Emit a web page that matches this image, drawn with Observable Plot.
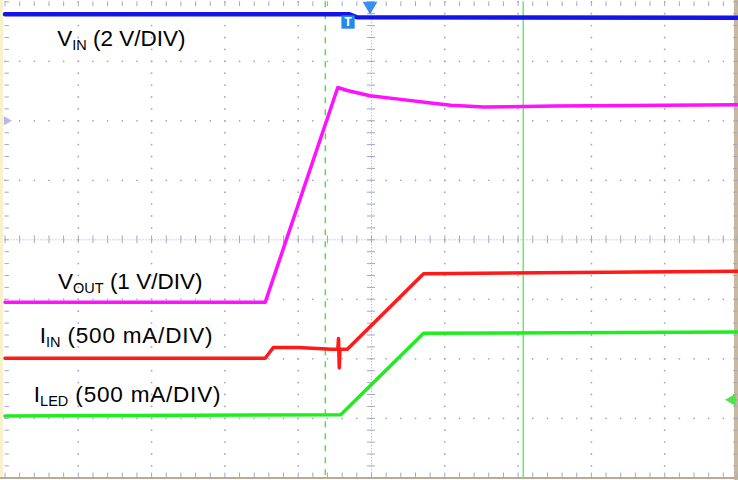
<!DOCTYPE html>
<html>
<head>
<meta charset="utf-8">
<script src="https://cdn.jsdelivr.net/npm/d3@7"></script>
<script src="https://cdn.jsdelivr.net/npm/@observablehq/plot@0.6"></script>
<style>
  html, body { margin: 0; padding: 0; background: #ffffff; }
  #wrap { position: relative; width: 738px; height: 480px; background: #ffffff; overflow: hidden; }
  #wrap svg { position: absolute; left: 0; top: 0; }
  .bandL { position: absolute; left: 0; top: 0; width: 3px; height: 478px; background: #f7f2cc; }
  .bandR { position: absolute; left: 734px; top: 0; width: 4px; height: 480px; background: #c8b8a2; }
  .bandB { position: absolute; left: 0; top: 477px; width: 738px; height: 2px; background: #b9ab96; }
</style>
</head>
<body>
<div id="wrap"><div class="bandL"></div><div class="bandB"></div><div class="bandR"></div></div>
<script>
// time in divisions (0..10), amplitude in divisions (0..8, bottom = 0)
const vinT  = [0, 4.70, 4.80, 10];
const vinV  = [7.79, 7.79, 7.74, 7.73];

const voutT = [0, 3.55, 4.54, 4.67, 4.98, 5.40, 5.81, 6.08, 6.53, 7.5, 10];
const voutV = [2.95, 2.95, 6.56, 6.51, 6.42, 6.36, 6.30, 6.26, 6.23, 6.25, 6.27];

const iinT  = [0, 3.55, 3.66, 4.0, 4.45, 4.54, 4.55, 4.56, 4.57, 4.67, 5.71, 10];
const iinV  = [2.01, 2.01, 2.19, 2.19, 2.16, 2.16, 2.34, 1.85, 2.16, 2.16, 3.43, 3.47];

const iledT = [0, 4.58, 5.71, 10];
const iledV = [1.04, 1.06, 2.43, 2.45];

const cursorDashed = 4.37;
const cursorSolid  = 7.07;
const triggerT = 4.98;

const labelMain = ["V", "V", "I", "I"];
const labelSub  = ["IN", "OUT", "IN", "LED"];
const labelRest = [" (2 V/DIV)", " (1 V/DIV)", " (500 mA/DIV)", " (500 mA/DIV)"];
const labelT    = [0.72, 0.73, 0.48, 0.40];
const labelV    = [7.25, 3.17, 2.26, 1.27];

const zip = (t, v) => t.map((x, i) => ({t: x, v: v[i]}));

const xMinor = d3.range(0, 10.001, 0.2);
const yMinor = d3.range(0, 8.001, 0.2);
const xMajorInner = [1,2,3,4,6,7,8,9];
const yMajorInner = [1,2,3,5,6,7];
const gridCol = "#a3a6c9";

const gridDots = [];
for (const X of xMajorInner) for (const y of yMinor) gridDots.push({t: X, v: y});
for (const Y of yMajorInner) for (const x of xMinor) gridDots.push({t: x, v: Y});

const chart = Plot.plot({
  width: 738,
  height: 480,
  marginLeft: 4.5,
  marginRight: 0.5,
  marginTop: 1.3,
  marginBottom: 2.7,
  x: {domain: [0, 10], axis: null},
  y: {domain: [0, 8], axis: null},
  style: {background: "transparent", overflow: "visible"},
  marks: [
    Plot.dot(gridDots, {x: "t", y: "v", r: 0.9, fill: gridCol, stroke: null}),
    Plot.ruleX([5], {stroke: gridCol, strokeDasharray: "1,2"}),
    Plot.ruleY([4], {stroke: gridCol, strokeDasharray: "1,2"}),
    Plot.ruleY(yMinor, {y: d => d, x1: 4.945, x2: 5.055, stroke: gridCol}),
    Plot.ruleX(xMinor, {x: d => d, y1: 3.935, y2: 4.065, stroke: gridCol}),
    Plot.ruleY(yMinor, {y: d => d, x1: 0, x2: 0.06, stroke: gridCol}),
    Plot.ruleY(yMinor, {y: d => d, x1: 9.94, x2: 10, stroke: gridCol}),
    Plot.ruleX(xMinor, {x: d => d, y1: 0, y2: 0.08, stroke: gridCol}),
    Plot.ruleX(xMinor, {x: d => d, y1: 7.92, y2: 8, stroke: gridCol}),
    Plot.ruleX([cursorDashed], {stroke: "#4fe04f", strokeWidth: 1.5, strokeDasharray: "6,6"}),
    Plot.ruleX([cursorSolid], {stroke: "#6ee86e", strokeWidth: 1.5}),
    Plot.line(zip(voutT, voutV), {x: "t", y: "v", stroke: "#ff10ff", strokeWidth: 3.5, strokeLinejoin: "round"}),
    Plot.line(zip(iinT, iinV), {x: "t", y: "v", stroke: "#ff1a1a", strokeWidth: 3.5, strokeLinejoin: "round"}),
    Plot.line(zip(iledT, iledV), {x: "t", y: "v", stroke: "#1eee1e", strokeWidth: 3.5, strokeLinejoin: "round"}),
    Plot.line(zip(vinT, vinV), {x: "t", y: "v", stroke: "#1414e6", strokeWidth: 4.5, strokeLinejoin: "round"}),
    Plot.dot([triggerT], {x: d => d, y: 7.93, symbol: "triangle", rotate: 180, r: 5.5, fill: "#3a8ef0", stroke: null}),
    Plot.dot([4.68], {x: d => d, y: 7.66, symbol: "square", r: 7.5, fill: "#2488ee", stroke: null}),
    Plot.text([4.68], {x: d => d, y: 7.67, text: () => "T", fill: "white", fontSize: 13, fontWeight: "bold"}),
    Plot.dot([0.02], {x: d => d, y: 6.0, symbol: "triangle", rotate: 90, r: 3.5, fill: "#b7b7f0", stroke: null}),
    Plot.dot([9.92], {x: d => d, y: 1.31, symbol: "triangle", rotate: -90, r: 4.5, fill: "#4fe04f", stroke: null}),
    Plot.ruleY([1.31], {x1: 9.92, x2: 10, stroke: "#4fe04f", strokeWidth: 1.5})
  ]
});

document.getElementById("wrap").appendChild(chart);

const sx = chart.scale("x"), sy = chart.scale("y");
const svg = d3.select(chart);
const g = svg.append("g")
  .attr("font-family", "'Liberation Sans', Arial, sans-serif")
  .attr("text-anchor", "start")
  .attr("fill", "#000");
labelMain.forEach((m, i) => {
  const t = g.append("text")
    .attr("x", sx.apply(labelT[i]))
    .attr("y", sy.apply(labelV[i]))
    .attr("text-anchor", "start")
    .attr("font-size", 22.5);
  t.append("tspan").text(m);
  t.append("tspan").attr("font-size", 14.5).attr("dy", 4).text(labelSub[i]);
  t.append("tspan").attr("dy", -4).attr("letter-spacing", labelRest[i].includes("mA") ? 0.8 : 0).text(labelRest[i]);
});
</script>
</body>
</html>
